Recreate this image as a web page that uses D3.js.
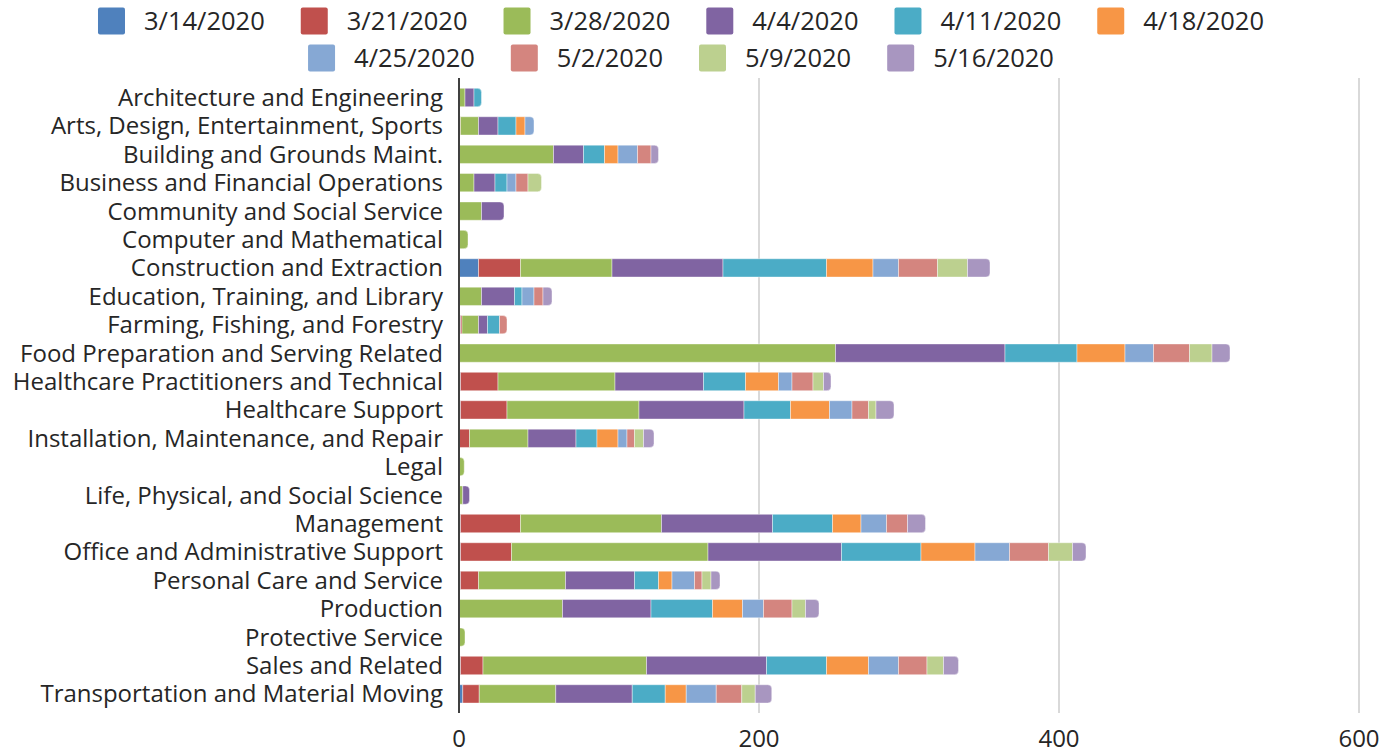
<!DOCTYPE html>
<html>
<head>
<meta charset="utf-8">
<script src="https://cdn.jsdelivr.net/npm/d3@7"></script>
<style>
  body { margin: 0; background: #fff; }
  text { font-family: "Open Sans", sans-serif; fill: #262626; }
</style>
</head>
<body>
<svg id="chart"></svg>
<script>
/* DATA */
var categories = [
  "Architecture and Engineering",
  "Arts, Design, Entertainment, Sports",
  "Building and Grounds Maint.",
  "Business and Financial Operations",
  "Community and Social Service",
  "Computer and Mathematical",
  "Construction and Extraction",
  "Education, Training, and Library",
  "Farming, Fishing, and Forestry",
  "Food Preparation and Serving Related",
  "Healthcare Practitioners and Technical",
  "Healthcare Support",
  "Installation, Maintenance, and Repair",
  "Legal",
  "Life, Physical, and Social Science",
  "Management",
  "Office and Administrative Support",
  "Personal Care and Service",
  "Production",
  "Protective Service",
  "Sales and Related",
  "Transportation and Material Moving"
];

var weeks = ["3/14/2020", "3/21/2020", "3/28/2020", "4/4/2020", "4/11/2020",
             "4/18/2020", "4/25/2020", "5/2/2020", "5/9/2020", "5/16/2020"];

// one array per week, in category order
var w0314 = [0, 0, 0, 0, 0, 0, 13, 0, 1, 0, 1, 1, 0, 0, 0, 1, 1, 1, 0, 0, 1, 2.5];
var w0321 = [0, 1, 0, 0, 0, 0, 28, 0, 1, 0, 25, 31, 7, 0, 0, 40, 34, 12, 0, 0, 15, 11];
var w0328 = [4, 12, 63, 10, 15, 6, 61, 15, 11, 251, 78, 88, 39, 3.5, 2.5, 94, 131, 58, 69, 4, 109, 51];
var w0404 = [6, 13, 20, 14, 15, 0, 74, 22, 6, 113, 59, 70, 32, 0, 4.5, 74, 89, 46, 59, 0, 80, 51];
var w0411 = [5, 12, 14, 8, 0, 0, 69, 5, 8, 48, 28, 31, 14, 0, 0, 40, 53, 16, 41, 0, 40, 22];
var w0418 = [0, 6, 9, 0, 0, 0, 31, 0, 0, 32, 22, 26, 14, 0, 0, 19, 36, 9, 20, 0, 28, 14];
var w0425 = [0, 6, 13, 6, 0, 0, 17, 8, 0, 19, 9, 15, 6, 0, 0, 17, 23, 15, 14, 0, 20, 20];
var w0502 = [0, 0, 9, 8, 0, 0, 26, 6, 5, 24, 14, 11, 5, 0, 0, 14, 26, 5, 19, 0, 19, 17];
var w0509 = [0, 0, 0, 9, 0, 0, 20, 0, 0, 15, 7, 5, 6, 0, 0, 0, 16, 6, 9, 0, 11, 9];
var w0516 = [0, 0, 5, 0, 0, 0, 15, 6, 0, 12, 5, 12, 7, 0, 0, 12, 9, 6, 9, 0, 10, 11];

var series = [w0314, w0321, w0328, w0404, w0411, w0418, w0425, w0502, w0509, w0516];

var xTicks = [0, 200, 400, 600];

var colors = ["#4f81bd", "#c0504d", "#9bbb59", "#8064a2", "#4bacc6",
              "#f79646", "#86a8d4", "#d4857f", "#bcd08f", "#a896c0"];


/* SETUP */
var width = 1388;
var height = 753;
var plotLeft = 459, plotRight = 1359;
var plotTop = 83.3, plotBottom = 708.1;

var svg = d3.select("svg#chart")
  .attr("width", width)
  .attr("height", height);

var rows = categories.map(function(c, i) {
  var row = { category: c };
  weeks.forEach(function(w, j) { row[w] = series[j][i]; });
  return row;
});

var stacked = d3.stack().keys(weeks)(rows);

var x = d3.scaleLinear()
  .domain([0, 600])
  .range([plotLeft, plotRight]);

var y = d3.scaleBand()
  .domain(categories)
  .range([plotTop, plotBottom])
  .paddingInner(0.355)
  .paddingOuter(0.1775);

var color = d3.scaleOrdinal().domain(weeks).range(colors);


/* GRIDLINES */
svg.append("g")
  .selectAll("line")
  .data(xTicks.slice(1))
  .enter()
  .append("line")
    .attr("x1", d => x(d))
    .attr("x2", d => x(d))
    .attr("y1", 78)
    .attr("y2", 713)
    .attr("stroke", "#d9d9d9")
    .attr("stroke-width", 2);


/* BARS */
// index of the last non-zero segment per row, gets rounded right end
var lastIdx = categories.map(function(c, i) {
  var k = -1;
  series.forEach(function(s, j) { if (s[i] > 0) k = j; });
  return k;
});

function roundedRight(x0, y0, w, h, r) {
  r = Math.min(r, w, h / 2);
  return "M" + x0 + "," + y0 +
    "H" + (x0 + w - r) +
    "Q" + (x0 + w) + "," + y0 + " " + (x0 + w) + "," + (y0 + r) +
    "V" + (y0 + h - r) +
    "Q" + (x0 + w) + "," + (y0 + h) + " " + (x0 + w - r) + "," + (y0 + h) +
    "H" + x0 + "Z";
}

var layers = svg.append("g")
  .selectAll("g")
  .data(stacked)
  .enter()
  .append("g")
    .attr("fill", d => color(d.key));

layers.selectAll("path")
  .data(function(d, j) { return d.map(function(p, i) { return { p: p, i: i, j: j }; }); })
  .enter()
  .filter(d => d.p[1] - d.p[0] > 0)
  .append("path")
    .attr("d", function(d) {
      var x0 = x(d.p[0]);
      var w = x(d.p[1]) - x0;
      var y0 = y(categories[d.i]);
      var r = (lastIdx[d.i] === d.j) ? 4 : 0;
      return roundedRight(x0, y0, w, y.bandwidth(), r);
    })
    .attr("stroke", "#fff")
    .attr("stroke-width", 0.6)
    .attr("stroke-opacity", 0.7);


/* AXES */
svg.append("line")
  .attr("x1", x(0)).attr("x2", x(0))
  .attr("y1", 78).attr("y2", 713)
  .attr("stroke", "#404040")
  .attr("stroke-width", 2);

svg.append("g")
  .selectAll("text")
  .data(xTicks)
  .enter()
  .append("text")
    .attr("x", d => x(d))
    .attr("y", 747)
    .attr("text-anchor", "middle")
    .style("font-size", "24px")
    .text(d => d);

svg.append("g")
  .selectAll("text")
  .data(categories)
  .enter()
  .append("text")
    .attr("x", 443)
    .attr("y", d => y(d) + y.bandwidth() / 2)
    .attr("dy", "0.35em")
    .attr("text-anchor", "end")
    .style("font-size", "24px")
    .text(d => d);


/* LEGEND */
var legendRows = [weeks.slice(0, 6), weeks.slice(6)];
var legendY = [21, 58];
var swatch = 27, swatchGap = 19, itemGap = 36;
var legendCenter = 681;

legendRows.forEach(function(items, ri) {
  var g = svg.append("g").attr("class", "legend-row");
  var xPos = 0;
  items.forEach(function(key) {
    var item = g.append("g").attr("transform", translate(xPos, 0));
    item.append("rect")
      .attr("x", 0)
      .attr("y", legendY[ri] - swatch / 2)
      .attr("width", swatch)
      .attr("height", swatch)
      .attr("rx", 2)
      .attr("fill", color(key));
    var t = item.append("text")
      .attr("x", swatch + swatchGap)
      .attr("y", legendY[ri])
      .attr("dy", "0.35em")
      .style("font-size", "25.5px")
      .text(key);
    xPos += swatch + swatchGap + t.node().getComputedTextLength() + itemGap;
  });
  var total = xPos - itemGap;
  g.attr("transform", translate(legendCenter - total / 2, 0));
});


/* HELPER FUNCTION */
function translate(x, y) {
  return 'translate(' + String(x) + ',' + String(y) + ')';
}
</script>
</body>
</html>
